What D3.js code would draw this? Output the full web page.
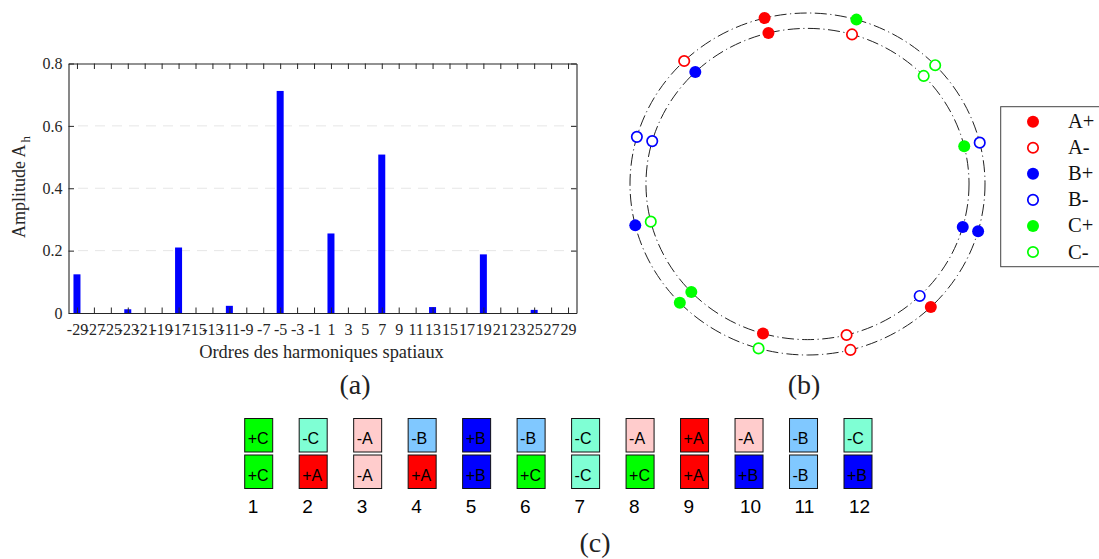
<!DOCTYPE html>
<html>
<head>
<meta charset="utf-8">
<script src="https://cdn.jsdelivr.net/npm/d3@7"></script>
<style>
html,body{margin:0;padding:0;background:#fff;overflow:hidden}
svg{display:block}
</style>
</head>
<body>
<svg id="chart" width="1099" height="559"></svg>
<script>
// Panel (a)
const harmonics = [-29,-23,-17,-11,-5,1,7,13,19,25];
const amplitudes = [0.124,0.012,0.21,0.023,0.712,0.255,0.508,0.019,0.188,0.01];
const xTicks = [-29,-27,-25,-23,-21,-19,-17,-15,-13,-11,-9,-7,-5,-3,-1,1,3,5,7,9,11,13,15,17,19,21,23,25,27,29];
const yTicks = [0,0.2,0.4,0.6,0.8];
// Panel (b)
const slotAngles = [14,44,74,104,134,164,194,224,254,284,314,344];
const outerPhases = ["B-","C-","C+","A+","A-","B-","B+","C+","C-","A-","A+","B+"];
const innerPhases = ["C+","C-","A-","A+","B+","B-","C-","C+","A+","A-","B-","B+"];
const legendLabels = ["A+","A-","B+","B-","C+","C-"];
// Panel (c)
const slotNumbers = ["1","2","3","4","5","6","7","8","9","10","11","12"];
const topLayer = ["+C","-C","-A","-B","+B","-B","-C","-A","+A","-A","-B","-C"];
const bottomLayer = ["+C","+A","-A","+A","+B","+C","-C","+C","+A","+B","-B","+B"];

const phaseColor = {A:"#ff0000",B:"#0000ff",C:"#00ff00"};
const cellColor = {"+A":"#ff0000","-A":"#ffcccc","+B":"#0000ff","-B":"#80c8ff","+C":"#00ff00","-C":"#7fffd4"};
const serif = "'Liberation Serif',serif";
const sans = "'Liberation Sans',Arial,sans-serif";
const svg = d3.select("#chart");
const ink = "#262626";

// ---------- (a)
const x = d3.scaleLinear().domain([-30,30]).range([68.5,576.5]);
const y = d3.scaleLinear().domain([0,0.8]).range([313,63.5]);
const a = svg.append("g");

a.selectAll("line.grid").data(yTicks.slice(1,4)).join("line")
  .attr("x1",78).attr("x2",576)
  .attr("y1",d=>y(d)).attr("y2",d=>y(d))
  .attr("stroke","#e6e6e6").attr("stroke-width",1).attr("stroke-dasharray","10 7");

a.selectAll("rect.bar").data(harmonics).join("rect")
  .attr("x",d=>x(d)-3.5).attr("width",7)
  .attr("y",(d,i)=>y(amplitudes[i]))
  .attr("height",(d,i)=>y(0)-y(amplitudes[i]))
  .attr("fill","#0000ff");

function styleAxis(g){
  g.select(".domain").attr("stroke",ink).attr("stroke-width",1.1);
  g.selectAll(".tick line").attr("stroke",ink).attr("stroke-width",1);
  g.selectAll("text").attr("fill",ink).attr("font-family",serif).attr("font-size",16);
}
a.append("g").attr("transform",`translate(0,${y(0)})`)
  .call(d3.axisBottom(x).tickValues(xTicks).tickSizeInner(-5.5).tickSizeOuter(0).tickPadding(11).tickFormat(d3.format("d")))
  .call(styleAxis)
  .call(g=>g.selectAll("text").text(d=>String(d)));
a.append("g").attr("transform",`translate(0,${y(0.8)})`)
  .call(d3.axisTop(x).tickValues(xTicks).tickSizeInner(-5.5).tickSizeOuter(0).tickFormat(""))
  .call(styleAxis);
a.append("g").attr("transform",`translate(${x(-30)},0)`)
  .call(d3.axisLeft(y).tickValues(yTicks).tickSizeInner(-5.5).tickSizeOuter(0).tickPadding(6).tickFormat(d=>d===0?"0":d3.format(".1f")(d)))
  .call(styleAxis);
a.append("g").attr("transform",`translate(${x(30)},0)`)
  .call(d3.axisRight(y).tickValues(yTicks).tickSizeInner(-5.5).tickSizeOuter(0).tickFormat(""))
  .call(styleAxis);

a.append("text").attr("x",321.5).attr("y",357.5).attr("text-anchor","middle")
  .attr("font-family",serif).attr("font-size",18.4).attr("fill",ink)
  .text("Ordres des harmoniques spatiaux");
const yl = a.append("text").attr("transform","translate(25,187) rotate(-90)").attr("text-anchor","middle")
  .attr("font-family",serif).attr("font-size",18).attr("fill",ink);
yl.append("tspan").text("Amplitude A");
yl.append("tspan").attr("dy",5).attr("dx",2).attr("font-size",13).text("h");

// ---------- (b)
const rx = d3.scaleLinear().domain([-1,1]).range([630,985]);
const ry = d3.scaleLinear().domain([-1,1]).range([355,13]);
const rings = [{r:1,phases:outerPhases},{r:0.91,phases:innerPhases}];
const b = svg.append("g");
b.selectAll("ellipse").data(rings).join("ellipse")
  .attr("cx",rx(0)).attr("cy",ry(0))
  .attr("rx",d=>rx(d.r)-rx(0)).attr("ry",d=>ry(0)-ry(d.r))
  .attr("fill","none").attr("stroke","#222").attr("stroke-width",1)
  .attr("stroke-dasharray","12 3.5 1.2 3.5");

function drawMarker(sel){
  sel.attr("r",d=>d.label[1]==="+"?6:5.2)
    .attr("fill",d=>d.label[1]==="+"?phaseColor[d.label[0]]:"#fff")
    .attr("stroke",d=>d.label[1]==="+"?"none":phaseColor[d.label[0]])
    .attr("stroke-width",1.7);
}
rings.forEach(ring=>{
  const pts = ring.phases.map((label,i)=>({label,t:slotAngles[i]*Math.PI/180,r:ring.r}));
  b.append("g").selectAll("circle").data(pts).join("circle")
    .attr("cx",d=>rx(d.r*Math.cos(d.t)))
    .attr("cy",d=>ry(d.r*Math.sin(d.t)))
    .call(drawMarker);
});

const legendY = d3.scalePoint().domain(legendLabels).range([121.7,252]);
const lg = svg.append("g");
lg.append("rect").attr("x",1000.7).attr("y",106.7).attr("width",130).attr("height",160)
  .attr("fill","#fff").attr("stroke","#444").attr("stroke-width",1);
lg.selectAll("circle").data(legendLabels.map(label=>({label}))).join("circle")
  .attr("cx",1033).attr("cy",d=>legendY(d.label)).call(drawMarker);
lg.selectAll("text").data(legendLabels).join("text")
  .attr("x",1068).attr("y",d=>legendY(d)+6.5)
  .attr("font-family",serif).attr("font-size",20.5).attr("fill","#111").text(d=>d);

// ---------- (c)
const cx = d3.scalePoint().domain(slotNumbers).range([244.7,844]);
const layerY = d3.scalePoint().domain(["top","bottom"]).range([418.5,455]);
const c = svg.append("g");
[["top",topLayer],["bottom",bottomLayer]].forEach(([name,vals])=>{
  const g = c.append("g");
  g.selectAll("rect").data(vals).join("rect")
    .attr("x",(d,i)=>cx(slotNumbers[i])).attr("y",layerY(name))
    .attr("width",28).attr("height",33.5)
    .attr("fill",d=>cellColor[d]).attr("stroke","#111").attr("stroke-width",1);
  g.selectAll("text").data(vals).join("text")
    .attr("x",(d,i)=>cx(slotNumbers[i])+3).attr("y",layerY(name)+25.5)
    .attr("font-family",sans).attr("font-size",16).attr("fill","#000").text(d=>d);
});
c.selectAll("text.num").data(slotNumbers).join("text").attr("class","num")
  .attr("x",d=>cx(d)+(d.length>1?5:3)).attr("y",513)
  .attr("font-family",sans).attr("font-size",19).attr("fill","#000").text(d=>d);

// captions
const captions = ["(a)","(b)","(c)"];
const capX = [355,804,595];
const capY = [394,394,552];
svg.append("g").selectAll("text").data(captions).join("text")
  .attr("x",(d,i)=>capX[i]).attr("y",(d,i)=>capY[i]).attr("text-anchor","middle")
  .attr("font-family",serif).attr("font-size",28).attr("fill","#222").text(d=>d);
</script>
</body>
</html>
